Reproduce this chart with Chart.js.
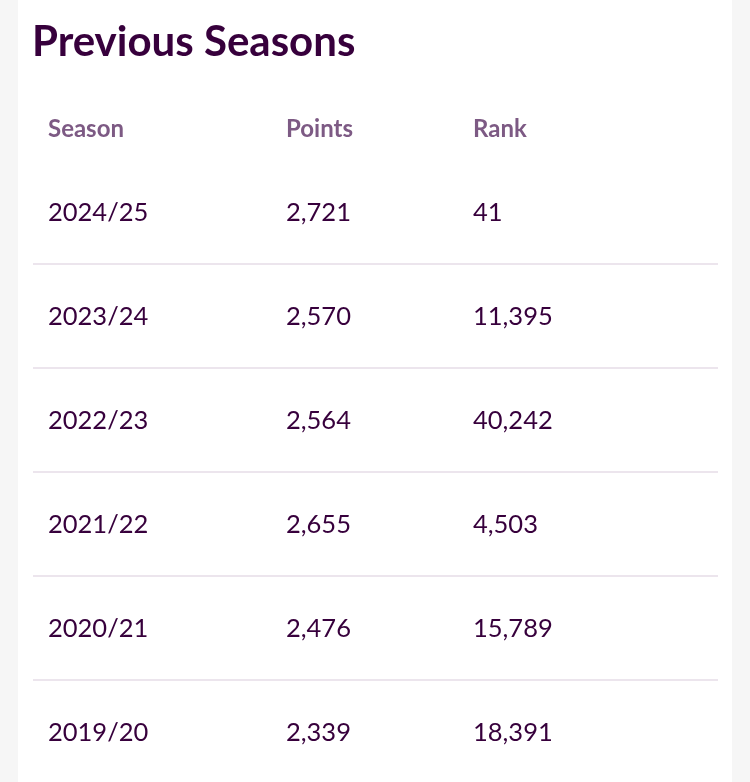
<!DOCTYPE html>
<html><head><meta charset="utf-8">
<script src="https://cdn.jsdelivr.net/npm/chart.js@4"></script>
<style>html,body{margin:0;padding:0;background:#f6f6f6}#wrap{width:750px;height:782px}</style>
</head><body><div id="wrap"><canvas id="c"></canvas></div>
<script>
const title = 'Previous Seasons';
const headers = ['Season', 'Points', 'Rank'];
const seasons = ['2024/25', '2023/24', '2022/23', '2021/22', '2020/21', '2019/20'];
const points = [2721, 2570, 2564, 2655, 2476, 2339];
const ranks = [41, 11395, 40242, 4503, 15789, 18391];

// layout: column x positions and row y positions, in page pixels
const colX = [48, 286, 473];
const headerY = 129, firstRowY = 213, rowStep = 104;

const purple = '#37003c';
const fmt = n => n.toLocaleString('en-US');

const tablePlugin = {
  id: 'table',
  beforeDraw(chart) {
    const ctx = chart.ctx, xs = chart.scales.x;
    ctx.save();
    ctx.fillStyle = '#f6f6f6';
    ctx.fillRect(0, 0, 750, 782);
    ctx.fillStyle = '#ffffff';
    ctx.fillRect(xs.getPixelForValue(18), 0, xs.getPixelForValue(732) - xs.getPixelForValue(18), 782);
    ctx.restore();
  },
  afterDraw(chart) {
    const ctx = chart.ctx, xs = chart.scales.x, ys = chart.scales.y;
    ctx.save();
    ctx.textBaseline = 'middle';
    ctx.fillStyle = purple;
    ctx.font = 'bold 42px Lato, "Open Sans", sans-serif';
    ctx.fillText(title, xs.getPixelForValue(32), ys.getPixelForValue(42));

    ctx.fillStyle = '#7d5a84';
    ctx.font = 'bold 24px Lato, "Open Sans", sans-serif';
    headers.forEach((h, i) => ctx.fillText(h, xs.getPixelForValue(colX[i]), ys.getPixelForValue(headerY)));

    ctx.font = '25.5px Lato, "Open Sans", sans-serif';
    seasons.forEach((s, r) => {
      const y = ys.getPixelForValue(firstRowY + r * rowStep);
      ctx.fillStyle = purple;
      ctx.fillText(s, xs.getPixelForValue(colX[0]), y);
      ctx.fillText(fmt(points[r]), xs.getPixelForValue(colX[1]), y);
      ctx.fillText(fmt(ranks[r]), xs.getPixelForValue(colX[2]), y);
      if (r < seasons.length - 1) {
        const ly = ys.getPixelForValue(firstRowY + r * rowStep + 51);
        ctx.strokeStyle = '#e6dde7';
        ctx.lineWidth = 1.5;
        ctx.beginPath();
        ctx.moveTo(xs.getPixelForValue(33), ly);
        ctx.lineTo(xs.getPixelForValue(718), ly);
        ctx.stroke();
      }
    });
    ctx.restore();
  }
};

new Chart(document.getElementById('c'), {
  type: 'scatter',
  data: { datasets: [{ data: [] }] },
  options: {
    responsive: true, maintainAspectRatio: false, animation: false,
    layout: { padding: 0 },
    plugins: { legend: { display: false }, tooltip: { enabled: false } },
    scales: {
      x: { type: 'linear', min: 0, max: 750, display: false },
      y: { type: 'linear', min: 0, max: 782, reverse: true, display: false }
    }
  },
  plugins: [tablePlugin]
});
</script></body></html>
